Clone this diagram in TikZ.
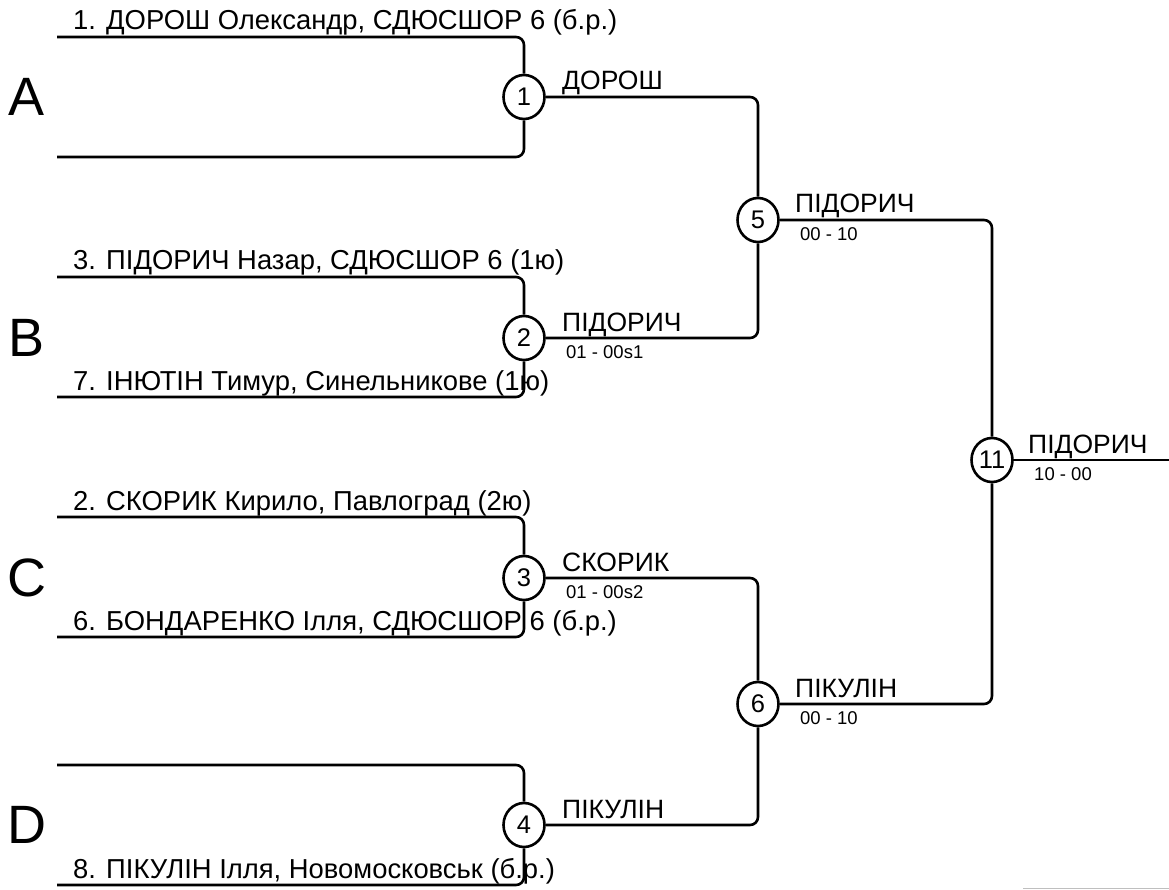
\documentclass[tikz,border=0pt]{standalone}
\usepackage{fontspec}
\setmainfont{Liberation Sans}
\usetikzlibrary{shapes.geometric}

\tikzset{
  bout/.style={draw, ellipse, line width=2.6pt, fill=white, minimum width=41pt, minimum height=44pt, inner sep=0pt, font=\fontsize{25.5}{25.5}\selectfont},
  wire/.style={line width=2.6pt, rounded corners=8pt},
  player/.style={anchor=base west, inner sep=0pt, font=\fontsize{27.4}{27.4}\selectfont},
  winner/.style={anchor=base west, inner sep=0pt, font=\fontsize{26.5}{26.5}\selectfont},
  score/.style={anchor=north west, inner sep=0pt, font=\fontsize{18.5}{18.5}\selectfont},
  pool/.style={inner sep=0pt, font=\fontsize{54}{54}\selectfont}
}

\begin{document}
\begin{tikzpicture}[x=1pt,y=-1pt]
\useasboundingbox (0,0) rectangle (1169,890);

\node[bout] (m1) at (524,97) {1};
\node[bout] (m2) at (524,338) {2};
\node[bout] (m3) at (524,578) {3};
\node[bout] (m4) at (524,825) {4};
\node[bout] (m5) at (758,220) {5};
\node[bout] (m6) at (758,704) {6};
\node[bout] (m11) at (992,460) {11};

\coordinate (a1) at (57,37);
\coordinate (a2) at (57,157);
\coordinate (b1) at (57,277);
\coordinate (b2) at (57,397);
\coordinate (c1) at (57,517);
\coordinate (c2) at (57,637);
\coordinate (d1) at (57,765);
\coordinate (d2) at (57,885);
\coordinate (fin) at (1169,460);

\draw[wire] (a1) -- (a1 -| m1) -- (m1.north);
\draw[wire] (a2) -- (a2 -| m1) -- (m1.south);
\draw[wire] (b1) -- (b1 -| m2) -- (m2.north);
\draw[wire] (b2) -- (b2 -| m2) -- (m2.south);
\draw[wire] (c1) -- (c1 -| m3) -- (m3.north);
\draw[wire] (c2) -- (c2 -| m3) -- (m3.south);
\draw[wire] (d1) -- (d1 -| m4) -- (m4.north);
\draw[wire] (d2) -- (d2 -| m4) -- (m4.south);

\draw[wire] (m1.east) -- (m1 -| m5) -- (m5.north);
\draw[wire] (m2.east) -- (m2 -| m5) -- (m5.south);
\draw[wire] (m3.east) -- (m3 -| m6) -- (m6.north);
\draw[wire] (m4.east) -- (m4 -| m6) -- (m6.south);
\draw[wire] (m5.east) -- (m5 -| m11) -- (m11.north);
\draw[wire] (m6.east) -- (m6 -| m11) -- (m11.south);
\draw[wire] (m11.east) -- (fin);

\node[pool] (pA) at (27,97) {A};
\node[pool] (pB) at (27,338) {B};
\node[pool] (pC) at (27,578) {C};
\node[pool] (pD) at (27,825) {D};

\node[player] (n1) at (73,30) {1. ДОРОШ Олександр, СДЮСШОР 6 (б.р.)};
\node[player] (n3) at (73,270) {3. ПІДОРИЧ Назар, СДЮСШОР 6 (1ю)};
\node[player] (n7) at (73,390) {7. ІНЮТІН Тимур, Синельникове (1ю)};
\node[player] (n2) at (73,510) {2. СКОРИК Кирило, Павлоград (2ю)};
\node[player] (n6) at (73,630) {6. БОНДАРЕНКО Ілля, СДЮСШОР 6 (б.р.)};
\node[player] (n8) at (73,878) {8. ПІКУЛІН Ілля, Новомосковськ (б.р.)};

\node[winner] (w1) at (562,90) {ДОРОШ};
\node[winner] (w2) at (562,331) {ПІДОРИЧ};
\node[score] (r2) at (566,345) {01 - 00s1};
\node[winner] (w3) at (562,571) {СКОРИК};
\node[score] (r3) at (566,585) {01 - 00s2};
\node[winner] (w4) at (562,818) {ПІКУЛІН};
\node[winner] (w5) at (795,213) {ПІДОРИЧ};
\node[score] (r5) at (800,227) {00 - 10};
\node[winner] (w6) at (795,697) {ПІКУЛІН};
\node[score] (r6) at (800,711) {00 - 10};
\node[winner] (w11) at (1028,453) {ПІДОРИЧ};
\node[score] (r11) at (1034,467) {10 - 00};

\coordinate (g1) at (1023,888.5);
\coordinate (g2) at (1169,888.5);
\draw[gray!50, line width=1.2pt] (g1) -- (g2);

\end{tikzpicture}
\end{document}
